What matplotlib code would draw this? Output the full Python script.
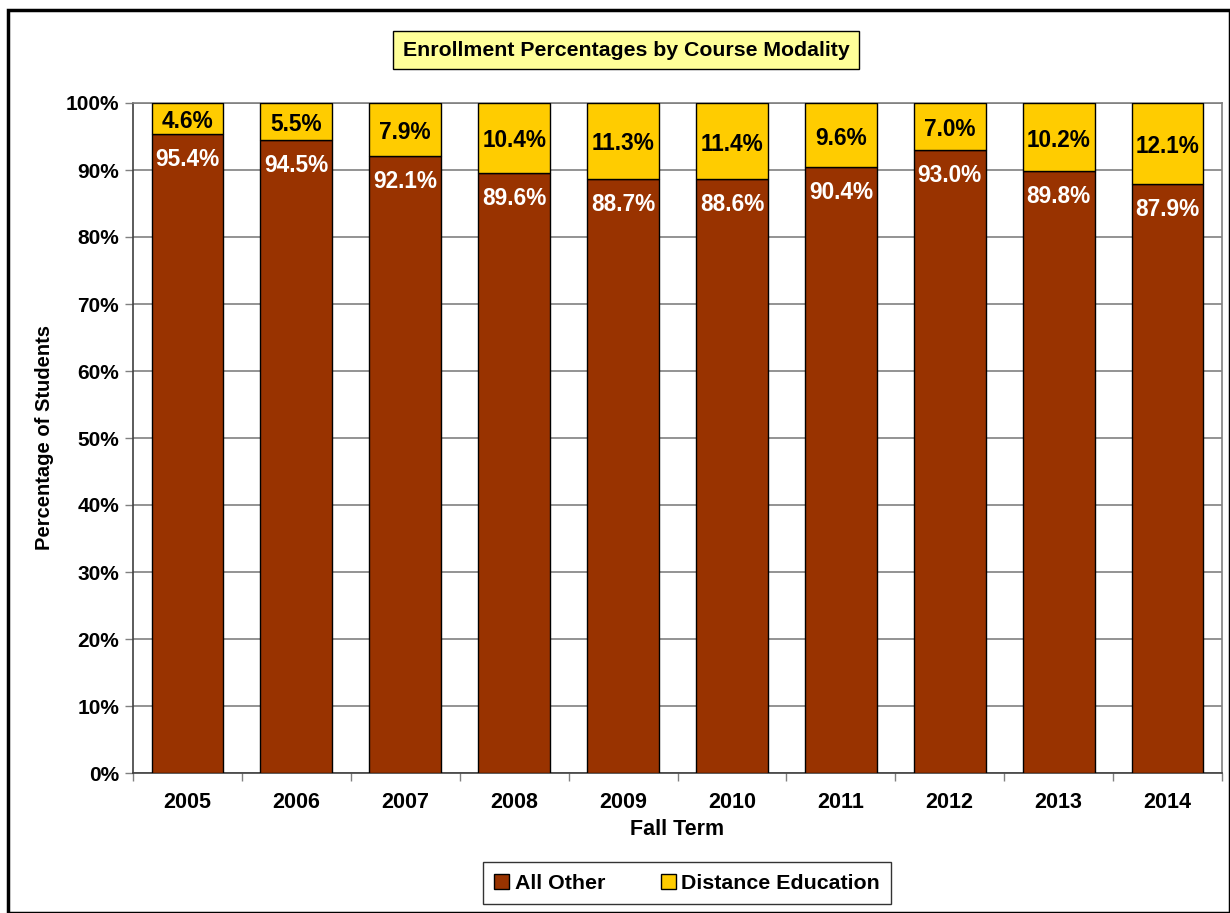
import matplotlib.pyplot as plt
from matplotlib.patches import Rectangle
import numpy as np

plt.rcParams['font.family'] = ['Liberation Sans', 'DejaVu Sans']
plt.rcParams['font.weight'] = 'bold'

# Données
years = ['2005', '2006', '2007', '2008', '2009', '2010', '2011', '2012', '2013', '2014']
all_other = [95.4, 94.5, 92.1, 89.6, 88.7, 88.6, 90.4, 93.0, 89.8, 87.9]
distance_ed = [4.6, 5.5, 7.9, 10.4, 11.3, 11.4, 9.6, 7.0, 10.2, 12.1]

brown = '#993300'
yellow = '#FFCC00'

fig = plt.figure(figsize=(12.3, 9.13), dpi=100)
ax = fig.add_axes([133 / 1230, 140 / 913, 1089 / 1230, 670 / 913])

x = np.arange(len(years))
b1 = ax.bar(x, all_other, width=0.66, color=brown, edgecolor='black', linewidth=1,
            label='All Other', zorder=3)
b2 = ax.bar(x, distance_ed, width=0.66, bottom=all_other, color=yellow, edgecolor='black',
            linewidth=1, label='Distance Education', zorder=3)

# Etiquettes des valeurs
for xi, a, d in zip(x, all_other, distance_ed):
    ax.annotate(f'{a:.1f}%', (xi, a), xytext=(0, -14), textcoords='offset pixels',
                ha='center', va='top', color='white', fontsize=16.3, fontweight='bold', zorder=4)
    ax.annotate(f'{d:.1f}%', (xi, a + d / 2), xytext=(0, -3), textcoords='offset pixels',
                ha='center', va='center', color='black', fontsize=16.3, fontweight='bold',
                zorder=4)

ax.set_xlim(-0.5, len(years) - 0.5)
ax.set_ylim(0, 100)
ax.set_yticks(np.arange(0, 101, 10))
ax.set_yticklabels([f'{v}%' for v in range(0, 101, 10)])
ax.set_xticks(x)
ax.set_xticklabels(years)
ax.set_xticks(np.arange(-0.5, len(years), 1), minor=True)
ax.tick_params(axis='x', which='major', length=0, pad=14, labelsize=15.5)
ax.tick_params(axis='x', which='minor', length=6, width=1, color='#808080', direction='out')
ax.tick_params(axis='y', length=6, width=1, color='#808080', labelsize=15, pad=4)

ax.grid(axis='y', color='#808080', linewidth=1.2, zorder=0)
ax.set_axisbelow(True)
for side in ['top', 'right']:
    ax.spines[side].set_color('#808080')
for side in ['left', 'bottom']:
    ax.spines[side].set_color('#404040')
for s in ax.spines.values():
    s.set_linewidth(1.2)

ax.set_xlabel('Fall Term', fontsize=15.5, fontweight='bold', labelpad=4)
ax.set_ylabel('Percentage of Students', fontsize=14.5, fontweight='bold', labelpad=8)

# Titre dans une boîte jaune
fig.text(626 / 1230, 1 - 50 / 913, 'Enrollment Percentages by Course Modality', ha='center',
         va='center', fontsize=15.3, fontweight='bold',
         bbox=dict(boxstyle='square,pad=0.45', facecolor='#FFFF99', edgecolor='black', linewidth=1))

leg = fig.legend(handles=[b1, b2], loc='center', bbox_to_anchor=(687 / 1230, 1 - 883 / 913),
                 ncol=2, frameon=True, fancybox=False, edgecolor='black',
                 handlelength=0.7, handleheight=0.7, handletextpad=0.25, columnspacing=2.6,
                 borderpad=0.55, prop={'weight': 'bold', 'size': 15.4})
leg.get_frame().set_linewidth(1)

# Cadre de la figure
fig.patches.append(Rectangle((8 / 1230, 0), 1 - 8 / 1230, 1 - 10 / 913, transform=fig.transFigure,
                             fill=False, edgecolor='black', linewidth=2.5))

fig.savefig('out.png', dpi=100)
